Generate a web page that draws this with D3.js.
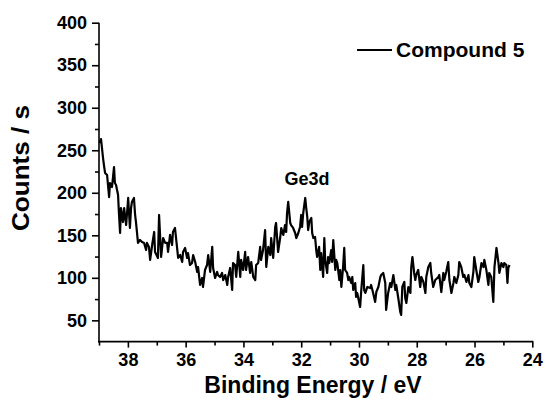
<!DOCTYPE html>
<html><head><meta charset="utf-8">
<script src="https://cdn.jsdelivr.net/npm/d3@7"></script>
<style>body{margin:0;background:#fff;}svg{display:block;font-family:"Liberation Sans",Arial,sans-serif;font-weight:bold;}</style>
</head><body>
<script>
const energy = [38.98,38.93,38.86,38.83,38.79,38.72,38.65,38.62,38.55,38.48,38.45,38.41,38.34,38.31,38.27,38.24,38.17,38.13,38.06,37.99,37.93,37.89,37.86,37.79,37.75,37.72,37.65,37.58,37.51,37.44,37.37,37.34,37.27,37.23,37.16,37.09,37.06,36.96,36.92,36.85,36.78,36.71,
36.64,36.61,36.54,36.47,36.44,36.37,36.30,36.26,36.19,36.12,36.09,36.02,35.95,35.92,35.85,35.78,35.74,35.67,35.60,35.57,35.50,35.43,35.40,35.33,35.26,35.22,35.15,35.08,35.05,34.98,34.91,34.88,34.81,34.74,34.70,34.63,34.56,34.53,34.46,34.39,34.36,
34.29,34.25,34.18,34.11,34.08,34.01,33.94,33.91,33.84,33.77,33.73,33.66,33.59,33.56,33.49,33.42,33.39,33.32,33.25,33.21,33.14,33.07,33.04,32.97,32.90,32.87,32.80,32.73,32.69,32.62,32.56,32.52,32.49,32.45,32.38,32.35,32.28,32.21,32.17,32.10,32.04,32.00,31.97,
31.93,31.86,31.83,31.79,31.76,31.72,31.65,31.62,31.58,31.52,31.48,31.45,31.38,31.34,31.31,31.24,31.20,31.17,31.10,31.07,31.03,30.96,30.93,30.89,30.82,30.79,30.75,30.68,30.65,30.61,30.55,30.51,30.48,30.41,30.37,30.34,30.27,30.23,30.20,30.13,30.10,30.06,29.99,29.96,29.92,29.85,29.82,29.78,29.71,
29.61,29.58,29.51,29.44,29.40,29.33,29.26,29.23,29.16,29.09,29.06,28.99,28.92,28.88,28.81,28.74,28.71,28.64,28.57,28.54,28.50,28.43,28.40,28.36,28.29,28.22,28.19,28.15,28.09,28.05,28.02,27.95,27.88,27.84,27.77,27.70,27.67,27.60,27.53,27.50,27.43,27.36,
27.25,27.22,27.15,27.08,27.05,26.98,26.91,26.87,26.80,26.73,26.70,26.63,26.56,26.53,26.46,26.39,26.35,26.28,26.21,26.18,26.11,26.04,26.01,25.94,25.87,25.83,25.76,25.69,25.66,25.59,25.52,25.49,25.42,25.35,25.31,25.24,25.17,25.14,25.07,25.00,24.97,24.90,24.86,24.83,24.79];
const counts = [258.5,263.2,240.9,232.7,223.3,220.9,195.0,211.5,206.8,230.3,211.5,209.2,197.4,176.2,152.7,182.1,165.6,182.1,162.1,193.9,158.6,182.1,189.2,193.9,173.9,165.6,141.0,144.5,142.1,141.0,132.7,141.0,136.3,121.0,138.6,153.9,130.4,123.3,173.9,124.5,146.8,141.0,
141.0,130.4,150.4,138.6,153.9,158.6,136.3,123.3,126.8,118.6,130.4,135.1,123.3,129.2,115.1,117.4,126.8,118.6,106.9,112.7,91.6,99.8,89.2,109.2,115.1,126.8,106.9,136.3,111.6,99.8,106.9,103.3,101.0,105.7,97.4,103.3,91.6,101.0,111.6,85.7,117.4,
115.1,101.0,130.4,101.0,121.0,109.2,130.4,109.2,124.5,105.7,118.6,101.0,97.4,115.1,117.4,136.3,121.0,132.7,156.2,112.7,136.3,126.8,146.8,123.3,159.8,164.5,130.4,146.8,158.6,150.4,162.1,153.9,176.2,189.2,164.5,162.1,158.6,152.7,146.8,152.7,159.8,173.9,159.8,
176.2,193.9,183.3,171.5,156.2,165.6,170.4,152.7,146.8,148.0,132.7,124.5,136.3,109.2,129.2,101.0,146.8,121.0,105.7,124.5,117.4,132.7,118.6,144.5,109.2,121.0,117.4,97.4,109.2,89.2,112.7,135.1,109.2,105.7,97.4,101.0,93.9,101.0,85.7,93.9,77.5,82.2,70.4,65.7,85.7,115.1,85.7,82.2,89.2,
88.0,91.6,82.2,71.6,83.3,89.2,101.0,103.3,105.7,93.9,62.2,82.2,93.9,89.2,103.3,85.7,91.6,76.3,59.8,56.3,89.2,95.1,76.3,70.4,89.2,82.2,112.7,124.5,105.7,97.4,103.3,109.2,89.2,101.0,95.1,82.2,101.0,112.7,117.4,105.7,89.2,97.4,
101.0,103.3,83.3,105.7,97.4,106.9,118.6,97.4,82.2,93.9,101.0,93.9,103.3,118.6,112.7,101.0,103.3,95.1,103.3,93.9,89.2,106.9,124.5,109.2,95.1,101.0,117.4,112.7,121.0,109.2,91.6,105.7,101.0,71.6,112.7,135.1,117.4,105.7,117.4,112.7,117.4,115.1,93.9,111.6,115.1];
const xTicks = [38,36,34,32,30,28,26,24];
const xMinor = [39,37,35,33,31,29,27,25];
const yTicks = [50,100,150,200,250,300,350,400];
const yMinor = [75,125,175,225,275,325,375];
const seriesName = "Compound 5";
const peakLabel = {text:"Ge3d", e:31.8, c:209};

const W=546,H=409;
const x0=99, x1=532.3, yTop=22.7, yBot=341.6;
const svg=d3.select("body").append("svg").attr("width",W).attr("height",H);
const x=d3.scaleLinear().domain([39,24]).range([x0,x1]);
const y=d3.scaleLinear().domain([25,400]).range([yBot,yTop]);

// data line
svg.append("path").datum(d3.zip(energy,counts))
  .attr("fill","none").attr("stroke","#000").attr("stroke-width",2.2).attr("stroke-linejoin","round")
  .attr("d",d3.line().x(d=>x(d[0])).y(d=>y(d[1])));

// y axis
const gy=svg.append("g").attr("transform",`translate(${x0},0)`);
gy.call(d3.axisLeft(y).tickValues(yTicks).tickSize(7).tickPadding(5).tickFormat(d3.format("d")));
gy.append("g").call(d3.axisLeft(y).tickValues(yMinor).tickSize(4).tickFormat(""));
gy.selectAll(".domain").remove();
gy.append("line").attr("x1",0).attr("x2",0).attr("y1",yTop).attr("y2",yBot+1).attr("stroke","#000").attr("stroke-width",2);
gy.selectAll("line").attr("stroke-width",1.6);
gy.selectAll("text").attr("font-size",18).attr("font-family","Liberation Sans, Arial").attr("font-weight","bold").attr("fill","#000");

// x axis
const gx=svg.append("g").attr("transform",`translate(0,${yBot})`);
gx.call(d3.axisBottom(x).tickValues(xTicks).tickSize(6).tickPadding(6).tickFormat(d3.format("d")));
gx.append("g").call(d3.axisBottom(x).tickValues(xMinor).tickSize(4).tickFormat(""));
gx.selectAll(".domain").remove();
gx.append("line").attr("x1",x0-1).attr("x2",x1+1).attr("y1",0).attr("y2",0).attr("stroke","#000").attr("stroke-width",2);
gx.selectAll("line").attr("stroke-width",1.6);
gx.selectAll("text").attr("font-size",18).attr("font-family","Liberation Sans, Arial").attr("font-weight","bold").attr("fill","#000");

// titles
svg.append("text").attr("x",313).attr("y",393).attr("text-anchor","middle")
  .attr("font-size",23).text("Binding Energy / eV");
svg.append("text").attr("transform",`translate(29,168) rotate(-90)`).attr("text-anchor","middle")
  .attr("font-size",23).attr("textLength",126).attr("lengthAdjust","spacingAndGlyphs").text("Counts / s");

// legend
svg.append("line").attr("x1",357).attr("x2",392).attr("y1",50).attr("y2",50).attr("stroke","#000").attr("stroke-width",2);
svg.append("text").attr("x",396).attr("y",57).attr("font-size",21).text(seriesName);

// peak label
svg.append("text").attr("x",x(peakLabel.e)).attr("y",y(peakLabel.c)).attr("text-anchor","middle")
  .attr("font-size",18).text(peakLabel.text);
</script>
</body></html>
